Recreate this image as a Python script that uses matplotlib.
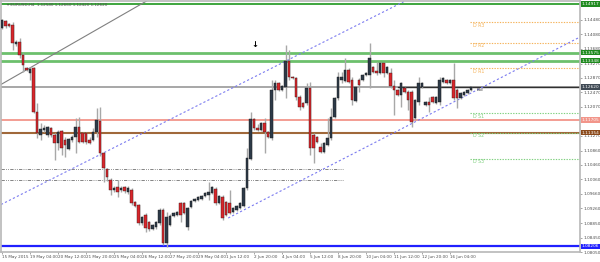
import matplotlib
matplotlib.use("Agg")
import matplotlib.pyplot as plt
import matplotlib.transforms as mtrans
import numpy as np

# ---------------- data ----------------
opens = [1.14254, 1.14448, 1.14365, 1.14337, 1.13811, 1.13867, 1.13506, 1.13146, 1.13008, 1.13146,
         1.11928, 1.11290, 1.11429, 1.11290, 1.11484, 1.11290, 1.11069, 1.11401, 1.11152, 1.10903,
         1.11152, 1.11235, 1.11512, 1.11346, 1.11346, 1.11152, 1.11152, 1.11374, 1.11678, 1.10792,
         1.10349, 1.10044, 1.09767, 1.09850, 1.09767, 1.09850, 1.09712, 1.09767, 1.09435, 1.09351,
         1.08853, 1.09074, 1.08881, 1.08687, 1.08742, 1.08853, 1.09213, 1.08299, 1.08797, 1.09047,
         1.09074, 1.09407, 1.09407, 1.08742, 1.09296, 1.09462, 1.09490, 1.09518, 1.09601, 1.09628,
         1.09684, 1.09795, 1.09407, 1.09573, 1.09435, 1.09407, 1.09158, 1.09213, 1.09268, 1.09324,
         1.09822, 1.10626, 1.11734, 1.11484, 1.11429, 1.11623, 1.11374, 1.11207, 1.12537, 1.12731,
         1.12537, 1.12620, 1.13340, 1.12897, 1.12869, 1.12343, 1.12177, 1.12177, 1.12592, 1.11290,
         1.11235, 1.10958, 1.10820, 1.11013, 1.11207, 1.11789, 1.12315, 1.12814, 1.12786, 1.13091,
         1.12814, 1.12232, 1.12814, 1.12814, 1.12952, 1.12952, 1.13174, 1.13063, 1.13008, 1.13285,
         1.13008, 1.13008, 1.12648, 1.12537, 1.12398, 1.12592, 1.12482, 1.12482, 1.11761, 1.12205,
         1.12620, 1.12121, 1.12205, 1.12343, 1.12177, 1.12205, 1.12759, 1.12814, 1.12731, 1.12814,
         1.12537, 1.12315, 1.12398, 1.12454, 1.12537]
highs = [1.14504, 1.14476, 1.14393, 1.14421, 1.13922, 1.13977, 1.13562, 1.13174, 1.13174, 1.13174,
         1.12177, 1.11623, 1.11567, 1.11540, 1.11512, 1.11346, 1.11429, 1.11429, 1.11235, 1.11207,
         1.11290, 1.11761, 1.11789, 1.11374, 1.11374, 1.11235, 1.11484, 1.12038, 1.12066, 1.10820,
         1.10376, 1.10099, 1.09878, 1.10044, 1.09878, 1.09878, 1.09878, 1.09822, 1.09462, 1.09379,
         1.09047, 1.09130, 1.08908, 1.08825, 1.08908, 1.09268, 1.09268, 1.09158, 1.09102, 1.09158,
         1.09185, 1.09435, 1.09435, 1.09296, 1.09490, 1.09545, 1.09601, 1.09628, 1.09712, 1.09989,
         1.09878, 1.09850, 1.09628, 1.09628, 1.09462, 1.09767, 1.09296, 1.09351, 1.09435, 1.09850,
         1.10930, 1.11928, 1.11761, 1.11595, 1.11651, 1.11761, 1.11401, 1.12814, 1.12814, 1.12759,
         1.12675, 1.13783, 1.13645, 1.12925, 1.12897, 1.12398, 1.12205, 1.12731, 1.12759, 1.11346,
         1.11263, 1.11069, 1.11097, 1.11761, 1.12038, 1.12343, 1.13036, 1.13036, 1.13423, 1.13146,
         1.12897, 1.12648, 1.12869, 1.12980, 1.13036, 1.13839, 1.13202, 1.13313, 1.13313, 1.13313,
         1.13202, 1.13146, 1.12814, 1.12565, 1.12759, 1.12620, 1.12537, 1.12537, 1.12288, 1.12897,
         1.12759, 1.12232, 1.12343, 1.12371, 1.12371, 1.12897, 1.12897, 1.12842, 1.12842, 1.13285,
         1.12592, 1.12482, 1.12509, 1.12565, 1.12648]
lows = [1.14227, 1.14254, 1.14282, 1.13645, 1.13756, 1.13423, 1.13036, 1.13063, 1.12814, 1.11900,
        1.11207, 1.11152, 1.11374, 1.11235, 1.11235, 1.10598, 1.10875, 1.10736, 1.10681, 1.10875,
        1.11097, 1.10792, 1.11069, 1.11069, 1.11041, 1.11041, 1.11124, 1.11235, 1.10709, 1.09989,
        1.10016, 1.09628, 1.09712, 1.09573, 1.09712, 1.09684, 1.09656, 1.09351, 1.09296, 1.08797,
        1.08797, 1.08604, 1.08631, 1.08659, 1.08687, 1.08797, 1.08243, 1.08188, 1.08770, 1.09019,
        1.09047, 1.08881, 1.09102, 1.08659, 1.09268, 1.09435, 1.09462, 1.09490, 1.09573, 1.09490,
        1.09656, 1.09351, 1.09379, 1.08936, 1.09047, 1.09102, 1.09130, 1.09185, 1.09241, 1.09296,
        1.09767, 1.10598, 1.11429, 1.11401, 1.11401, 1.10792, 1.11207, 1.11152, 1.12260, 1.12509,
        1.12509, 1.12315, 1.12814, 1.12842, 1.12260, 1.11983, 1.12038, 1.12121, 1.10736, 1.10515,
        1.11069, 1.10792, 1.10792, 1.10986, 1.11152, 1.11761, 1.12260, 1.12731, 1.12759, 1.12731,
        1.12121, 1.12205, 1.12482, 1.12786, 1.12925, 1.12592, 1.13008, 1.12952, 1.12980, 1.12897,
        1.12980, 1.12592, 1.11844, 1.12371, 1.12066, 1.12454, 1.11983, 1.11512, 1.11706, 1.12121,
        1.12592, 1.12094, 1.11928, 1.12177, 1.12149, 1.12121, 1.12731, 1.12703, 1.12703, 1.12260,
        1.12038, 1.12288, 1.12371, 1.12426, 1.12509]
closes = [1.14476, 1.14310, 1.14310, 1.13839, 1.13867, 1.13506, 1.13229, 1.13091, 1.13119, 1.11928,
          1.11346, 1.11457, 1.11484, 1.11512, 1.11290, 1.11069, 1.11374, 1.10930, 1.11013, 1.11180,
          1.11235, 1.11512, 1.11097, 1.11097, 1.11097, 1.11069, 1.11374, 1.11706, 1.10792, 1.10376,
          1.10127, 1.09767, 1.09822, 1.09712, 1.09822, 1.09739, 1.09822, 1.09407, 1.09324, 1.08853,
          1.09019, 1.08714, 1.08687, 1.08797, 1.08881, 1.09213, 1.08299, 1.09019, 1.09047, 1.09130,
          1.09158, 1.09074, 1.09130, 1.09268, 1.09462, 1.09518, 1.09573, 1.09601, 1.09684, 1.09712,
          1.09850, 1.09407, 1.09601, 1.08991, 1.09074, 1.09130, 1.09268, 1.09324, 1.09407, 1.09822,
          1.10653, 1.11734, 1.11484, 1.11429, 1.11623, 1.11374, 1.11235, 1.12537, 1.12731, 1.12537,
          1.12648, 1.13340, 1.12897, 1.12869, 1.12343, 1.12066, 1.12066, 1.12592, 1.10930, 1.10930,
          1.11097, 1.10820, 1.11069, 1.11207, 1.11789, 1.12315, 1.12897, 1.12897, 1.13091, 1.12759,
          1.12260, 1.12620, 1.12675, 1.12952, 1.13008, 1.13423, 1.13036, 1.13008, 1.13285, 1.13008,
          1.13174, 1.12648, 1.12537, 1.12398, 1.12731, 1.12482, 1.12260, 1.11651, 1.12260, 1.12731,
          1.12731, 1.12205, 1.12121, 1.12205, 1.12343, 1.12814, 1.12869, 1.12731, 1.12814, 1.12315,
          1.12315, 1.12454, 1.12482, 1.12537, 1.12620]

date_labels = ["15 May 2015", "19 May 04:00", "20 May 12:00", "21 May 20:00", "25 May 04:00",
               "26 May 12:00", "27 May 20:00", "29 May 04:00", "1 Jun 12:00", "2 Jun 20:00",
               "4 Jun 04:00", "5 Jun 12:00", "8 Jun 20:00", "10 Jun 04:00", "11 Jun 12:00",
               "12 Jun 20:00", "16 Jun 04:00"]
label_step = 8

price_ticks = [1.14480, 1.14080, 1.13680, 1.13270, 1.12870, 1.12470, 1.12070,
               1.11270, 1.10860, 1.10460, 1.10060, 1.09660, 1.09260, 1.08850, 1.08450, 1.08050]

# horizontal levels: (price, colour, width)
levels = [(1.14917, "#2e9e2e", 1.3), (1.13575, "#6cc06c", 2.0), (1.13348, "#6cc06c", 2.0),
          (1.11705, "#f2958a", 1.3), (1.11354, "#a0683a", 1.5), (1.08206, "#2020ff", 1.6)]
level_labels = [("1.14917", "#1f8a1f"), ("1.13575", "#1f8a1f"), ("1.13348", "#1f8a1f"),
                ("1.11705", "#f2958a"), ("1.11354", "#8b4a1c"), ("1.08206", "#2020ff")]
last_price = 1.12620

dashdot_levels = [1.10341, 1.10036]
pivot_names = ["D R3", "D R2", "D R1", "D S1", "D S2", "D S3"]
pivot_values = [1.14412, 1.13849, 1.13146, 1.11900, 1.11354, 1.10634]

# trend lines: two points (bar index, price)
gray_trend = [(-0.57, 1.12675), (40.3, 1.14947)]
upper_channel = [(-0.57, 1.09351), (76.57, 1.13119)]
lower_channel = [(64.6, 1.08991), (165.1, 1.14005)]

# ---------------- figure ----------------
fig = plt.figure(figsize=(6.0, 2.62), dpi=100)
ax = fig.add_axes([1 / 600, 10 / 262, 579 / 600, 251 / 262])
ax.set_facecolor("white")

n = len(opens)
x = np.arange(n)
xmax = 165.1
ax.set_xlim(-0.3, xmax)
ax.set_ylim(1.08050, 1.15002)

# levels
for p, c, lw in levels:
    ax.axhline(p, color=c, lw=lw, zorder=1)
ax.axhline(last_price, color="#a0a0a0", lw=1.3, zorder=1)
ax.plot([113, xmax], [last_price, last_price], color="#303030", lw=1.0, zorder=1.1)

for p in dashdot_levels:
    ax.plot([-0.3, 97.4], [p, p], color="#707070", lw=0.6,
            ls=(0, (4, 1.5, 1, 1.5, 1, 1.5)), zorder=1)

# pivots
for name, p in zip(pivot_names, pivot_values):
    col = "#f5b35a" if "R" in name else "#7fd07f"
    ax.plot([133.7, xmax], [p, p], color=col, lw=0.8, ls=(0, (1.2, 1.2)), zorder=1)
    ax.text(134.5, p - 0.0009, name, fontsize=3.4, color=col, va="center", ha="left")

# trend lines
ax.axline(gray_trend[0], gray_trend[1], color="#808080", lw=0.8, zorder=1.2)
ax.axline(upper_channel[0], upper_channel[1], color="#7b7bf0", lw=0.8, ls=(0, (2, 2)), zorder=1.2)
ax.plot([lower_channel[0][0], lower_channel[1][0]], [lower_channel[0][1], lower_channel[1][1]],
        color="#7b7bf0", lw=0.8, ls=(0, (2, 2)), zorder=1.2)

# candles
o = np.array(opens); h = np.array(highs); l = np.array(lows); c = np.array(closes)
ax.vlines(x, l, h, color="#a8a8a8", lw=1.0, zorder=2)
bull = c >= o
body_lo = np.minimum(o, c)
body_h = np.maximum(np.abs(c - o), 0.00010)
ax.bar(x[bull], body_h[bull], bottom=body_lo[bull], width=0.72, color="#2d3a48",
       edgecolor="#1a1a1a", lw=0.3, zorder=3)
ax.bar(x[~bull], body_h[~bull], bottom=body_lo[~bull], width=0.72, color="#d8262b",
       edgecolor="#3a1a1a", lw=0.3, zorder=3)

# annotations
ax.text(72.3, 1.13811, "\u2193", fontsize=6, fontweight="bold", color="black", ha="center", va="center")
ax.text(135.5, 1.12540, "Bid", fontsize=3.0, color="#404040", va="center", ha="left")
ax.text(1.5, 1.1488, "\u25be EURUSD,H4  1.12540 1.12660 1.12420 1.12620", fontsize=3.0,
        color="#505050", va="center", ha="left")

# axes styling
for s in ax.spines.values():
    s.set_color("#b8b8b8")
    s.set_linewidth(1.2)
ax.yaxis.tick_right()
ax.set_yticks(price_ticks)
ax.set_yticklabels([f"{p:.5f}" for p in price_ticks])
ax.tick_params(axis="y", labelsize=3.1, labelcolor="#505050", color="#808080",
               length=1.2, width=0.5, pad=1.0)

xt = np.arange(len(date_labels)) * label_step
ax.set_xticks(xt)
ax.set_xticklabels(date_labels, ha="left")
ax.tick_params(axis="x", labelsize=3.0, labelcolor="#505050", color="#808080",
               length=1.2, width=0.5, pad=1)

trans = mtrans.blended_transform_factory(ax.transAxes, ax.transData)
for (p, _, _), (lab, col) in zip(levels, level_labels):
    ax.text(1.003, p, lab, transform=trans, fontsize=3.1, color="white", va="center", ha="left",
            bbox=dict(boxstyle="square,pad=0.15", fc=col, ec="none"), zorder=5, clip_on=False)
ax.text(1.003, last_price, "1.12620", transform=trans, fontsize=3.1, color="white", va="center",
        ha="left", bbox=dict(boxstyle="square,pad=0.15", fc="#404a55", ec="none"),
        zorder=5, clip_on=False)

fig.savefig("out.png", dpi=100, facecolor="white")
